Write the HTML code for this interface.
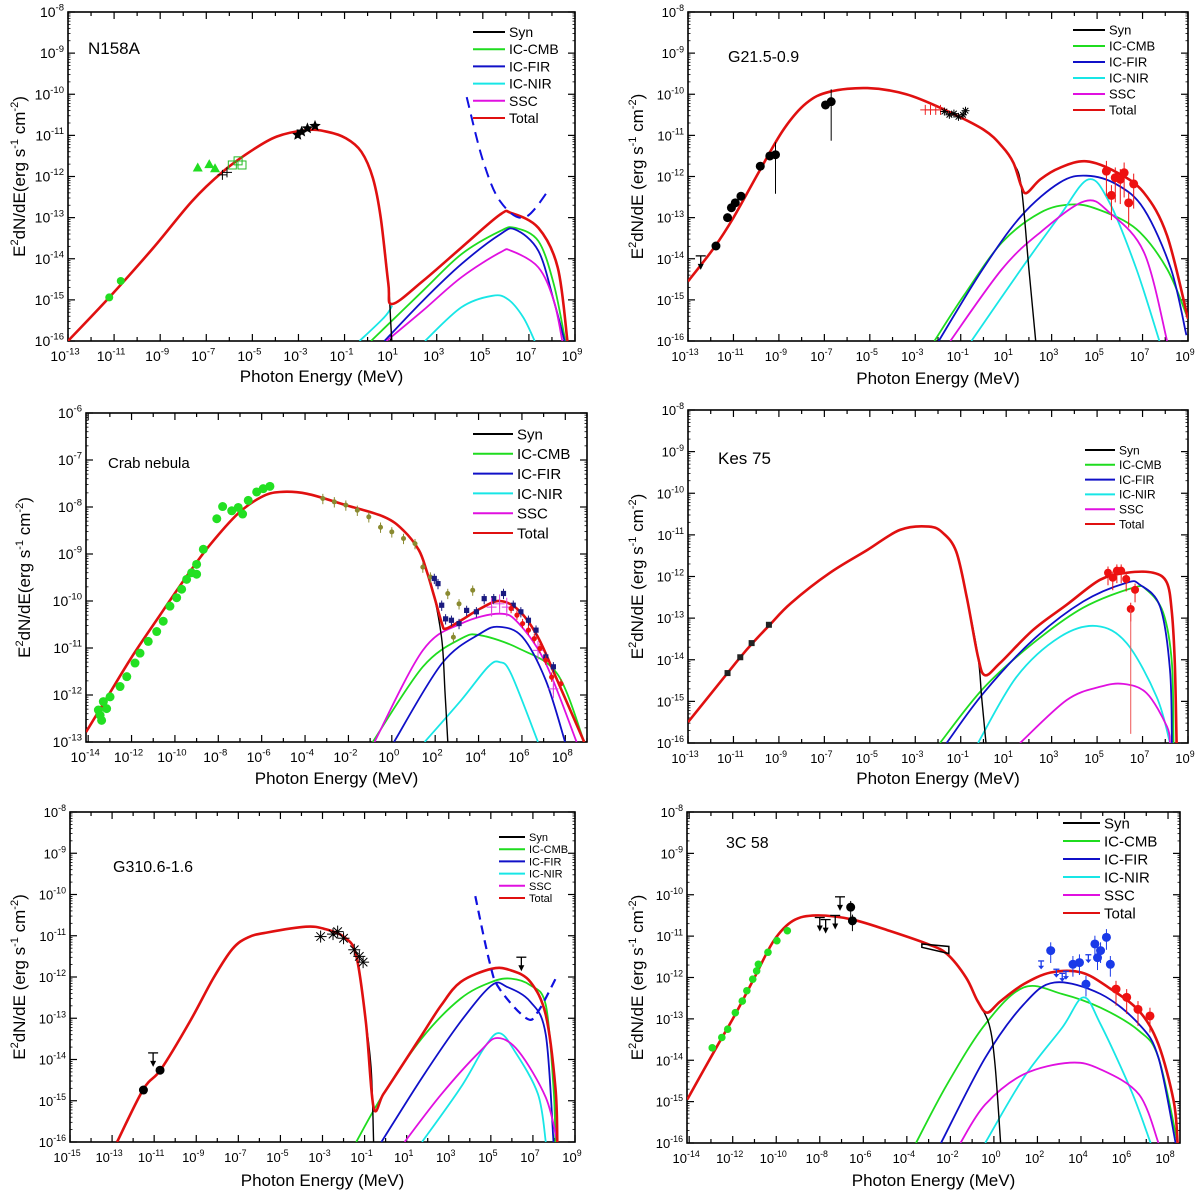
<!DOCTYPE html>
<html><head><meta charset="utf-8"><title>SED panels</title>
<style>
html,body{margin:0;padding:0;background:#fff;}
svg{display:block;font-family:"Liberation Sans",Arial,sans-serif;}
</style></head>
<body>
<svg id="fig" width="1200" height="1196" viewBox="0 0 1200 1196" xmlns="http://www.w3.org/2000/svg"></svg>
<script>
// ===== DATA: [logE (MeV), log(E^2 dN/dE)] =====
// --- N158A ---
const n158aTotal=[[-13,-16],[-11.21,-14.94],[-9.29,-13.73],[-7.62,-12.6],[-6.28,-11.88],[-5.11,-11.4],[-3.95,-11.03],[-2.61,-10.87],[-1.77,-10.91],[-0.94,-11.07],[-0.27,-11.4],[0.23,-12.04],[0.57,-13.0],[0.9,-14.6],[1.07,-15.1],[2.4,-14.54],[4.07,-13.73],[5.74,-12.93],[6.24,-12.89],[7.41,-13.25],[8.25,-14.21],[8.67,-16]];
const n158aSyn=[[-13,-16],[-11.21,-14.94],[-9.29,-13.73],[-7.62,-12.6],[-6.28,-11.88],[-5.11,-11.4],[-3.95,-11.03],[-2.61,-10.87],[-1.77,-10.91],[-0.94,-11.07],[-0.27,-11.4],[0.23,-12.04],[0.57,-13.0],[0.9,-14.6],[1.0,-15.5],[1.05,-16]];
const n158aCMB=[[0.15,-16],[2.4,-14.78],[4.07,-13.89],[5.74,-13.33],[6.41,-13.25],[7.41,-13.57],[8.08,-14.62],[8.58,-16]];
const n158aFIR=[[0.73,-16],[2.4,-15.02],[4.07,-14.13],[5.74,-13.41],[6.41,-13.29],[7.41,-13.81],[8.08,-15.02],[8.55,-16]];
const n158aNIR1=[[-0.35,-16],[0.73,-15.42],[1.07,-15.14]];
const n158aNIR2=[[2.49,-16],[4.07,-15.18],[5.41,-14.9],[6.08,-14.98],[6.75,-15.42],[7.25,-16]];
const n158aSSC=[[0.82,-16],[2.4,-15.26],[4.07,-14.45],[5.74,-13.85],[6.24,-13.81],[7.41,-14.21],[8.08,-15.02],[8.45,-16]];
const n158aSens=[[4.3,-10.07],[5.0,-11.6],[5.75,-12.6],[6.8,-13.0],[7.9,-12.3]];
const n158aGreenCircE=[-11.21,-10.71], n158aGreenCircF=[-14.94,-14.54];
const n158aTriE=[-7.37,-6.87,-6.62], n158aTriF=[-11.78,-11.7,-11.8];
const n158aCrossE=[-6.3,-6.1], n158aCrossF=[-11.96,-11.9];
const n158aSqE=[-5.87,-5.62,-5.45], n158aSqF=[-11.72,-11.62,-11.72];
const n158aStarE=[-3.03,-2.86,-2.61,-2.28], n158aStarF=[-10.99,-10.91,-10.83,-10.77];
// --- G21.5-0.9 ---
const g21Total=[[-13,-14.55],[-11.85,-13.73],[-11.0,-13.0],[-9.82,-11.83],[-8.8,-10.86],[-7.8,-10.22],[-6.78,-9.94],[-5.1,-9.85],[-3.4,-10.0],[-1.7,-10.38],[0,-10.86],[0.82,-11.27],[1.32,-11.67],[1.66,-12.23],[1.9,-12.4],[2.5,-12.07],[3.35,-11.79],[4.53,-11.63],[5.9,-11.91],[7.07,-12.4],[8.08,-13.44],[9,-15.46]];
const g21Syn=[[-13,-14.55],[-11.85,-13.73],[-11.0,-13.0],[-9.82,-11.83],[-8.8,-10.86],[-7.8,-10.22],[-6.78,-9.94],[-5.1,-9.85],[-3.4,-10.0],[-1.7,-10.38],[0,-10.86],[0.82,-11.27],[1.32,-11.67],[1.66,-12.23],[2.0,-14.25],[2.3,-16]];
const g21CMB=[[-2.16,-16],[-0.87,-14.9],[0.82,-13.6],[2.5,-12.88],[3.86,-12.68],[5.04,-12.8],[6.73,-13.28],[8.08,-14.25],[9,-15.46]];
const g21FIR=[[-1.97,-16],[-0.03,-14.25],[1.66,-12.96],[3.35,-12.15],[4.53,-11.98],[5.88,-12.2],[7.07,-12.8],[8.25,-14.25],[8.93,-15.86]];
const g21NIR=[[-0.53,-16],[1.66,-14.25],[3.35,-12.96],[4.62,-12.07],[5.55,-12.64],[6.73,-14.25],[7.74,-16]];
const g21SSC=[[-1.46,-16],[0.82,-14.25],[2.5,-13.36],[4.45,-12.6],[5.55,-12.88],[7.07,-13.85],[8.08,-16]];
const g21BlackE=[-11.77,-11.26,-11.09,-10.92,-10.67,-9.82,-9.4,-9.15,-6.95,-6.7], g21BlackF=[-13.69,-13.0,-12.76,-12.64,-12.48,-11.75,-11.5,-11.47,-10.26,-10.18];
const g21RedCrossE=[-2.56,-2.33,-2.1,-1.89], g21RedCrossF=[-10.38,-10.38,-10.38,-10.38];
const g21StarE=[-1.72,-1.5,-1.3,-1.1,-0.9,-0.79], g21StarF=[-10.42,-10.5,-10.47,-10.55,-10.5,-10.4];
const g21RedE=[5.41,5.63,5.8,6.02,6.19,6.39,6.61], g21RedF=[-11.87,-12.46,-12.03,-12.07,-11.91,-12.64,-12.18];
// --- Crab nebula ---
const crabTotal=[[-14.1,-12.79],[-13.15,-12.07],[-12.0,-11.2],[-10.69,-10.3],[-9.5,-9.5],[-8.39,-8.81],[-7.09,-8.14],[-6.02,-7.79],[-5.16,-7.68],[-3.9,-7.72],[-2.12,-7.96],[-0.35,-8.21],[0.54,-8.5],[1.25,-8.92],[1.6,-9.35],[1.96,-9.91],[2.31,-10.48],[2.49,-10.59],[3.2,-10.41],[4.09,-10.16],[4.97,-10.0],[5.86,-10.2],[6.74,-10.77],[7.63,-11.69],[8.87,-13.0]];
const crabSyn=[[-14.1,-12.79],[-13.15,-12.07],[-12.0,-11.2],[-10.69,-10.3],[-9.5,-9.5],[-8.39,-8.81],[-7.09,-8.14],[-6.02,-7.79],[-5.16,-7.68],[-3.9,-7.72],[-2.12,-7.96],[-0.35,-8.21],[0.54,-8.5],[1.25,-8.92],[1.6,-9.35],[1.96,-9.91],[2.31,-10.84],[2.45,-11.9],[2.58,-13]];
const crabCMB=[[-0.88,-13],[1.43,-11.4],[3.2,-10.8],[4.09,-10.73],[5.86,-11.01],[7.63,-11.55],[8.87,-13]];
const crabFIR=[[0.1,-13],[2.31,-11.33],[4.09,-10.69],[4.97,-10.55],[6.03,-10.77],[7.1,-11.69],[7.99,-13]];
const crabNIR=[[1.51,-13],[3.2,-12.11],[4.44,-11.4],[4.97,-11.3],[5.5,-11.55],[6.74,-13]];
const crabSSC=[[-0.8,-13],[1.43,-11.05],[3.2,-10.48],[4.97,-10.27],[5.86,-10.48],[7.1,-11.33],[8.52,-13]];
const crabGreenE=[-13.38,-13.53,-13.3,-13.45,-13.15,-12.99,-12.53,-12.22,-11.84,-11.61,-11.23,-10.84,-10.54,-10.23,-9.92,-9.69,-9.46,-9.23,-9.0,-9.0,-8.69,-8.07,-7.8,-7.38,-7.08,-6.88,-6.62,-6.23,-5.93,-5.62];
const crabGreenF=[-12.54,-12.32,-12.14,-12.43,-12.29,-12.04,-11.82,-11.61,-11.32,-11.11,-10.86,-10.65,-10.43,-10.11,-9.93,-9.75,-9.54,-9.4,-9.22,-9.43,-8.9,-8.25,-7.99,-8.08,-8.01,-8.15,-7.86,-7.68,-7.61,-7.56];
const crabOliveE=[-3.18,-2.65,-2.12,-1.59,-1.06,-0.52,0.0,0.54,1.07,1.43,1.78,2.58,3.1,3.73,2.84];
const crabOliveF=[-7.82,-7.89,-7.96,-8.07,-8.21,-8.43,-8.53,-8.67,-8.78,-9.28,-9.49,-9.84,-10.06,-9.77,-10.77];
const crabNavyE=[1.96,2.13,2.3,2.48,2.75,3.1,3.45,3.9,4.26,4.7,5.15,5.6,5.95,6.3,6.65,7.1,7.45];
const crabNavyF=[-9.52,-9.63,-10.09,-10.38,-10.41,-10.48,-10.2,-10.23,-9.95,-9.95,-9.84,-10.09,-10.23,-10.41,-10.62,-11.19,-11.4];
const crabRedE=[5.5,5.77,6.03,6.3,6.57,6.83,7.1,7.37,7.8];
const crabRedF=[-10.16,-10.3,-10.48,-10.62,-10.8,-11.01,-11.26,-11.62,-11.76];
const crabMagE=[4.6,4.97,5.3,6.74,7.45], crabMagF=[-10.13,-10.06,-10.13,-11.05,-11.87];
// --- Kes 75 ---
const kesTotal=[[-13,-15.5],[-11.26,-14.32],[-10.67,-13.92],[-10.16,-13.6],[-9.4,-13.16],[-8.47,-12.64],[-6.78,-11.92],[-5.1,-11.36],[-3.67,-10.88],[-2.4,-10.8],[-1.77,-10.96],[-1.2,-11.4],[-0.74,-12.48],[-0.24,-13.93],[0.07,-14.37],[0.73,-14.08],[2.19,-13.28],[3.66,-12.68],[5.13,-12.08],[6.3,-11.91],[7.47,-11.91],[8.07,-12.15],[8.29,-12.87],[8.42,-14.08],[8.5,-16]];
const kesSyn=[[-13,-15.5],[-11.26,-14.32],[-10.67,-13.92],[-10.16,-13.6],[-9.4,-13.16],[-8.47,-12.64],[-6.78,-11.92],[-5.1,-11.36],[-3.67,-10.88],[-2.4,-10.8],[-1.77,-10.96],[-1.2,-11.4],[-0.74,-12.48],[-0.24,-13.93],[-0.08,-14.89],[0.11,-16]];
const kesCMB=[[-1.91,-16],[0.0,-14.68],[2.19,-13.6],[4.39,-12.75],[6.59,-12.27],[7.18,-12.32],[7.91,-12.87],[8.29,-14.08],[8.36,-16]];
const kesFIR=[[-1.62,-16],[0.0,-14.8],[2.19,-13.52],[4.39,-12.6],[6.3,-12.15],[6.89,-12.2],[7.77,-12.72],[8.21,-14.25],[8.29,-16]];
const kesNIR=[[-0.24,-16],[1.46,-14.41],[3.37,-13.45],[4.98,-13.19],[6.3,-13.6],[7.62,-14.89],[8.21,-16]];
const kesSSC=[[1.61,-16],[3.66,-14.97],[5.13,-14.65],[6.15,-14.58],[7.18,-14.8],[8.07,-15.6],[8.21,-16]];
const kesBlackE=[-11.26,-10.7,-10.2,-9.44], kesBlackF=[-14.32,-13.94,-13.6,-13.16];
const kesRedE=[5.48,5.69,5.87,6.06,6.28,6.48,6.67], kesRedF=[-11.91,-12.03,-11.86,-11.86,-12.06,-12.78,-12.32];
// --- G310.6-1.6 ---
const g310Total=[[-12.76,-16],[-11.51,-14.72],[-10.68,-14.24],[-9.3,-13.08],[-8.2,-12.04],[-7.28,-11.32],[-6.54,-11.04],[-5.63,-10.92],[-3.79,-10.78],[-2.87,-10.84],[-1.95,-11.04],[-1.4,-11.48],[-0.94,-13.08],[-0.57,-15.16],[-0.11,-14.84],[0.81,-14.12],[1.73,-13.4],[2.65,-12.68],[3.57,-12.12],[5.04,-11.8],[5.96,-11.84],[6.88,-12.12],[7.61,-12.92],[8.07,-14.68],[8.16,-16]];
const g310Syn=[[-12.76,-16],[-11.51,-14.72],[-10.68,-14.24],[-9.3,-13.08],[-8.2,-12.04],[-7.28,-11.32],[-6.54,-11.04],[-5.63,-10.92],[-3.79,-10.78],[-2.87,-10.84],[-1.95,-11.04],[-1.4,-11.48],[-0.94,-13.08],[-0.68,-14.28],[-0.57,-16]];
const g310CMB=[[-1.4,-16],[-0.11,-14.84],[1.73,-13.48],[3.57,-12.52],[5.04,-12.12],[5.96,-12.04],[6.88,-12.2],[7.61,-12.68],[7.98,-14.68],[8.07,-16]];
const g310FIR=[[-0.2,-16],[1.73,-14.44],[3.57,-13.08],[5.04,-12.2],[5.77,-12.24],[6.88,-12.6],[7.61,-13.4],[7.98,-16]];
const g310NIR=[[1.73,-16],[3.57,-14.68],[4.68,-13.72],[5.4,-13.36],[6.14,-13.8],[7.24,-14.84],[7.61,-16]];
const g310SSC=[[0.9,-16],[2.65,-14.84],[4.49,-13.8],[5.32,-13.48],[6.32,-13.8],[7.61,-14.92],[8.16,-16]];
const g310Sens=[[4.26,-10.04],[4.94,-11.64],[5.4,-12.28],[6.69,-13.0],[7.24,-12.84],[8.16,-11.96]];
const g310BlackE=[-11.51,-10.72], g310BlackF=[-14.74,-14.26];
const g310StarE=[-3.09,-2.5,-2.28,-2.0,-1.49,-1.25,-1.07], g310StarF=[-11.02,-10.96,-10.9,-11.06,-11.34,-11.5,-11.64];
// --- 3C 58 ---
const c58Total=[[-14.09,-14.95],[-12.76,-13.7],[-11.88,-12.89],[-11.0,-12.0],[-10.11,-11.11],[-9.23,-10.63],[-8.17,-10.5],[-6.58,-10.59],[-4.81,-10.87],[-3.05,-11.19],[-2.16,-11.43],[-1.28,-12.0],[-0.75,-12.57],[-0.31,-12.85],[0.31,-12.57],[1.37,-12.16],[2.61,-11.88],[4.02,-11.88],[5.26,-12.24],[6.67,-12.81],[7.56,-13.62],[8.26,-14.99],[8.44,-16]];
const c58Syn=[[-14.09,-14.95],[-12.76,-13.7],[-11.88,-12.89],[-11.0,-12.0],[-10.11,-11.11],[-9.23,-10.63],[-8.17,-10.5],[-6.58,-10.59],[-4.81,-10.87],[-3.05,-11.19],[-2.16,-11.43],[-1.28,-12.0],[-0.75,-12.57],[-0.22,-13.13],[0.05,-14.1],[0.31,-16]];
const c58CMB=[[-3.58,-16],[-2.16,-14.59],[-0.4,-13.13],[1.37,-12.24],[3.14,-12.4],[4.9,-12.73],[6.67,-13.29],[7.56,-13.94],[8.44,-16]];
const c58FIR=[[-2.43,-16],[-0.4,-13.94],[1.37,-12.65],[2.78,-12.12],[4.9,-12.4],[6.67,-13.13],[7.56,-13.94],[8.35,-16]];
const c58NIR=[[-0.4,-16],[1.37,-14.42],[3.14,-13.21],[4.11,-12.48],[4.9,-13.13],[6.32,-14.75],[7.2,-16]];
const c58SSC=[[-1.54,-16],[-0.4,-15.07],[1.37,-14.34],[3.49,-14.06],[4.9,-14.22],[6.67,-14.83],[7.56,-16]];
const c58GreenE=[-12.94,-12.5,-12.23,-11.88,-11.56,-11.35,-11.08,-10.9,-10.82,-10.38,-9.97,-9.49];
const c58GreenF=[-13.7,-13.45,-13.25,-12.85,-12.57,-12.32,-12.04,-11.84,-11.68,-11.39,-11.11,-10.87];
const c58BlackE=[-6.58,-6.5], c58BlackF=[-10.3,-10.63];
const c58ArrowE=[-8.0,-7.73,-7.29,-7.07], c58ArrowF=[-10.55,-10.6,-10.5,-10.05];
const c58BlueE=[2.61,3.63,3.93,4.23,4.64,4.76,4.9,5.17,5.35], c58BlueF=[-11.35,-11.68,-11.64,-12.16,-11.19,-11.52,-11.35,-11.03,-11.68];
const c58BlueArrE=[2.17,2.87,3.14,3.31,4.34], c58BlueArrF=[-11.6,-11.8,-11.9,-11.85,-11.45];
const c58RedE=[5.61,6.1,6.62,7.17], c58RedF=[-12.28,-12.48,-12.77,-12.93];

// ===== RENDERING =====
const NS="http://www.w3.org/2000/svg";
const svg=document.getElementById('fig');
const COL={syn:'#000000',cmb:'#1fdc1f',fir:'#1010c8',nir:'#18e6e6',ssc:'#e010e0',tot:'#e01010'};
function el(tag,attrs,parent){const e=document.createElementNS(NS,tag);for(const k in attrs)e.setAttribute(k,attrs[k]);(parent||svg).appendChild(e);return e;}
function smoothPath(pts){
  if(pts.length<2)return '';
  let d='M'+pts[0][0].toFixed(1)+','+pts[0][1].toFixed(1);
  for(let i=0;i<pts.length-1;i++){
    const p0=pts[i-1]||pts[i],p1=pts[i],p2=pts[i+1],p3=pts[i+2]||p2;
    const c1=[p1[0]+(p2[0]-p0[0])/6,p1[1]+(p2[1]-p0[1])/6];
    const c2=[p2[0]-(p3[0]-p1[0])/6,p2[1]-(p3[1]-p1[1])/6];
    d+=' C'+c1[0].toFixed(1)+','+c1[1].toFixed(1)+' '+c2[0].toFixed(1)+','+c2[1].toFixed(1)+' '+p2[0].toFixed(1)+','+p2[1].toFixed(1);
  }
  return d;
}
function powLabel(g,x,y,exp,fs,anchor){
  const t=el('text',{x:x,y:y,'font-size':fs,'text-anchor':anchor,fill:'#000'},g);
  const a=document.createElementNS(NS,'tspan');a.textContent='10';t.appendChild(a);
  const b=document.createElementNS(NS,'tspan');b.setAttribute('dy',-fs*0.45);b.setAttribute('font-size',fs*0.68);b.textContent=String(exp);t.appendChild(b);
  return t;
}
function makePanel(p){
  const g=el('g',{});
  
  
  const sx=v=>p.L+(v-p.x0)/(p.x1-p.x0)*(p.R-p.L);
  const sy=v=>p.B-(v-p.y0)/(p.y1-p.y0)*(p.B-p.T);
  p.sx=sx;p.sy=sy;
  const cid='clip-'+p.name;
  const cp=el('clipPath',{id:cid},g);el('rect',{x:p.L,y:p.T,width:p.R-p.L,height:p.B-p.T},cp);
  const fr=el('rect',{x:p.L,y:p.T,width:p.R-p.L,height:p.B-p.T,fill:'none',stroke:'#000','stroke-width':1.6},g);
  
  const xa=el('g',{},g);
  for(let e=Math.ceil(p.x0);e<=Math.floor(p.x1);e++){
    const X=sx(e);const major=((e-p.xLab)%2===0);
    const len=major?7:4;
    el('line',{x1:X,y1:p.B,x2:X,y2:p.B-len,stroke:'#000','stroke-width':1.2},xa);
    el('line',{x1:X,y1:p.T,x2:X,y2:p.T+len,stroke:'#000','stroke-width':1.2},xa);
    if(major){const t=powLabel(xa,X-3,p.B+20,e,p.fs,'middle');}
  }
  const ya=el('g',{},g);
  for(let e=p.y0;e<=p.y1;e++){
    const Y=sy(e);
    el('line',{x1:p.L,y1:Y,x2:p.L+7,y2:Y,stroke:'#000','stroke-width':1.2},ya);
    el('line',{x1:p.R,y1:Y,x2:p.R-7,y2:Y,stroke:'#000','stroke-width':1.2},ya);
    for(let k=2;k<10;k++){const Ym=sy(e+Math.log10(k));if(e+Math.log10(k)<p.y1){el('line',{x1:p.L,y1:Ym,x2:p.L+2.5,y2:Ym,stroke:'#000','stroke-width':0.8},ya);el('line',{x1:p.R,y1:Ym,x2:p.R-2.5,y2:Ym,stroke:'#000','stroke-width':0.8},ya);}}
    const t=powLabel(ya,p.L-4,Y+5,e,p.fs,'end');
  }
  const xt=el('text',{x:(p.L+p.R)/2,y:p.xTitleY,'font-size':17,'text-anchor':'middle',fill:'#000'},g);
  xt.textContent='Photon Energy (MeV)';
  const cy=(p.T+p.B)/2;
  const yt=el('text',{x:0,y:0,'font-size':17,'text-anchor':'middle',fill:'#000',transform:'translate('+p.yTitleX+','+cy+') rotate(-90)'},g);
  
  const parts=[['E',0,17],['2',-7,11],['dN/dE'+p.ySep+'(erg s',7,17],['-1',-7,11],[' cm',7,17],['-2',-7,11],[')',7,17]];
  parts.forEach(q=>{const s=document.createElementNS(NS,'tspan');s.setAttribute('dy',q[1]);s.setAttribute('font-size',q[2]);s.textContent=q[0];yt.appendChild(s);});
  const tt=el('text',{x:p.titleX,y:p.titleY,'font-size':p.titleFs,fill:'#000'},g);
  tt.textContent=p.title;
  const dl=el('g',{'clip-path':'url(#'+cid+')'},g);
  p.dl=dl;
  const lg=el('g',{},g);
  const items=[['Syn',COL.syn],['IC-CMB',COL.cmb],['IC-FIR',COL.fir],['IC-NIR',COL.nir],['SSC',COL.ssc],['Total',COL.tot]];
  items.forEach((it,i)=>{
    const Y=p.legY+i*p.legDy;
    const le=el('g',{},lg);
    
    
    el('line',{x1:p.legX,y1:Y,x2:p.legX+p.legW,y2:Y,stroke:it[1],'stroke-width':2},le);
    const t=el('text',{x:p.legX+p.legW+4,y:Y+p.legFs*0.36,'font-size':p.legFs,fill:'#000'},le);t.textContent=it[0];
  });
  return p;
}
function curve(p,arr,color,w,name,dash){
  const pts=arr.map(d=>[p.sx(d[0]),p.sy(d[1])]);
  const a={d:smoothPath(pts),fill:'none',stroke:color,'stroke-width':w,'stroke-linejoin':'round'};
  if(dash)a['stroke-dasharray']=dash;
  const e=el('path',a,p.dl);
  
  
  return e;
}
function curves(p,c){
  if(c.cmb)curve(p,c.cmb,COL.cmb,1.8,'ic-cmb-curve');
  if(c.fir)curve(p,c.fir,COL.fir,1.8,'ic-fir-curve');
  (c.nir||[]).forEach(n=>curve(p,n,COL.nir,1.8,'ic-nir-curve'));
  if(c.ssc)curve(p,c.ssc,COL.ssc,1.8,'ssc-curve');
  curve(p,c.syn,COL.syn,1.4,'syn-curve');
  curve(p,c.tot,COL.tot,2.6,'total-curve');
}
function marks(p,E,F,type,color,size,name,err){
  const g=el('g',{},p.dl);
  
  
  for(let i=0;i<E.length;i++){
    const X=p.sx(E[i]),Y=p.sy(F[i]),s=size;
    if(err){el('line',{x1:X,y1:p.sy(F[i]+err[0]),x2:X,y2:p.sy(F[i]-err[1]),stroke:color,'stroke-width':1},g);}
    if(type==='circle')el('circle',{cx:X,cy:Y,r:s,fill:color},g);
    else if(type==='square')el('rect',{x:X-s,y:Y-s,width:2*s,height:2*s,fill:color},g);
    else if(type==='osquare')el('rect',{x:X-s,y:Y-s,width:2*s,height:2*s,fill:'none',stroke:color,'stroke-width':1},g);
    else if(type==='tri')el('polygon',{points:(X)+','+(Y-s)+' '+(X-s)+','+(Y+s*0.8)+' '+(X+s)+','+(Y+s*0.8),fill:color},g);
    else if(type==='star'){let pts=[];for(let k=0;k<10;k++){const r=k%2?s*0.45:s;const a=-Math.PI/2+k*Math.PI/5;pts.push((X+r*Math.cos(a)).toFixed(1)+','+(Y+r*Math.sin(a)).toFixed(1));}el('polygon',{points:pts.join(' '),fill:color},g);}
    else if(type==='ast'){for(let k=0;k<4;k++){const a=k*Math.PI/4;el('line',{x1:X-s*Math.cos(a),y1:Y-s*Math.sin(a),x2:X+s*Math.cos(a),y2:Y+s*Math.sin(a),stroke:color,'stroke-width':1},g);}}
    else if(type==='cross'){el('line',{x1:X-s,y1:Y,x2:X+s,y2:Y,stroke:color,'stroke-width':1},g);el('line',{x1:X,y1:Y-s,x2:X,y2:Y+s,stroke:color,'stroke-width':1},g);}
    else if(type==='arrow'){el('line',{x1:X-s,y1:Y,x2:X+s,y2:Y,stroke:color,'stroke-width':1.3},g);el('line',{x1:X,y1:Y,x2:X,y2:Y+s*2.2,stroke:color,'stroke-width':1.3},g);el('polygon',{points:(X-3)+','+(Y+s*1.6)+' '+(X+3)+','+(Y+s*1.6)+' '+X+','+(Y+s*2.8),fill:color},g);}
  }
}

// Panel 1: N158A
const P1=makePanel({name:'n158a',title:'N158A',L:68,R:575,T:12,B:341,x0:-13,x1:9,y0:-16,y1:-8,xLab:-13,fs:14,xTitleY:382,yTitleX:25,ySep:'',titleX:88,titleY:54,titleFs:17,legX:473,legW:32,legY:32,legDy:17.2,legFs:14});
curves(P1,{cmb:n158aCMB,fir:n158aFIR,nir:[n158aNIR1,n158aNIR2],ssc:n158aSSC,syn:n158aSyn,tot:n158aTotal});
curve(P1,n158aSens,'#1010e0',2,'sensitivity-curve','11,7');
marks(P1,n158aGreenCircE,n158aGreenCircF,'circle','#22dd22',4,'radio-points');
marks(P1,n158aTriE,n158aTriF,'tri','#22dd22',5,'ir-triangles');
marks(P1,n158aSqE,n158aSqF,'osquare','#22bb22',4,'optical-squares');
marks(P1,n158aCrossE,n158aCrossF,'cross','#000',5,'optical-crosses');
marks(P1,n158aStarE,n158aStarF,'star','#000',6,'xray-stars');

// Panel 2: G21.5-0.9
const P2=makePanel({name:'g21',title:'G21.5-0.9',L:688,R:1188,T:12,B:341,x0:-13,x1:9,y0:-16,y1:-8,xLab:-13,fs:13,xTitleY:384,yTitleX:643,ySep:' ',titleX:728,titleY:62,titleFs:16,legX:1073,legW:32,legY:30,legDy:16,legFs:13});
curves(P2,{cmb:g21CMB,fir:g21FIR,nir:[g21NIR],ssc:g21SSC,syn:g21Syn,tot:g21Total});
marks(P2,[-12.44],[-13.93],'arrow','#000',5,'radio-upper-limit');
marks(P2,g21BlackE,g21BlackF,'circle','#000',4.5,'radio-ir-points');
marks(P2,[-6.7,-9.15],[-10.18,-11.47],'circle','#000',0.1,'error-bars',[0.3,0.95]);
marks(P2,g21RedCrossE,g21RedCrossF,'cross','#ee2222',5,'xray-red-crosses');
marks(P2,g21StarE,g21StarF,'ast','#000',4,'xray-stars');
marks(P2,g21RedE,g21RedF,'circle','#ee1111',4.5,'tev-points',[0.25,0.6]);

// Panel 3: Crab
const P3=makePanel({name:'crab',title:'Crab nebula',L:86,R:587,T:413,B:742,x0:-14.1,x1:9.0,y0:-13,y1:-6,xLab:-14,fs:14,xTitleY:784,yTitleX:30,ySep:'',titleX:108,titleY:468,titleFs:15,legX:473,legW:40,legY:434,legDy:19.8,legFs:15});
curves(P3,{cmb:crabCMB,fir:crabFIR,nir:[crabNIR],ssc:crabSSC,syn:crabSyn,tot:crabTotal});
marks(P3,crabGreenE,crabGreenF,'circle','#22e022',4.5,'radio-optical-points');
marks(P3,crabOliveE,crabOliveF,'circle','#8a8a30',2.5,'xray-olive-points',[0.1,0.12]);
marks(P3,crabNavyE,crabNavyF,'square','#1a1a80',2.6,'fermi-points',[0.1,0.12]);
marks(P3,crabMagE,crabMagF,'cross','#e040e0',5,'magic-points',[0.2,0.2]);
marks(P3,crabRedE,crabRedF,'circle','#ee1111',2.6,'hess-points',[0.1,0.1]);

// Panel 4: Kes 75
const P4=makePanel({name:'kes75',title:'Kes 75',L:688,R:1188,T:410,B:743,x0:-13,x1:9,y0:-16,y1:-8,xLab:-13,fs:13,xTitleY:784,yTitleX:643,ySep:' ',titleX:718,titleY:464,titleFs:17,legX:1085,legW:30,legY:450,legDy:14.8,legFs:12});
curves(P4,{cmb:kesCMB,fir:kesFIR,nir:[kesNIR],ssc:kesSSC,syn:kesSyn,tot:kesTotal});
marks(P4,kesBlackE,kesBlackF,'square','#222',3,'radio-points');
marks(P4,kesRedE,kesRedF,'circle','#ee1111',4,'tev-points',[0.15,0.3]);
marks(P4,[6.48],[-12.78],'circle','#ee5555',0.1,'large-error-bar',[0,3.0]);

// Panel 5: G310.6-1.6
const P5=makePanel({name:'g310',title:'G310.6-1.6',L:70,R:575,T:812,B:1142,x0:-15,x1:9,y0:-16,y1:-8,xLab:-15,fs:13,xTitleY:1186,yTitleX:25,ySep:' ',titleX:113,titleY:872,titleFs:16,legX:499,legW:26,legY:837,legDy:12.2,legFs:11});
curves(P5,{cmb:g310CMB,fir:g310FIR,nir:[g310NIR],ssc:g310SSC,syn:g310Syn,tot:g310Total});
curve(P5,g310Sens,'#1010e0',2.2,'sensitivity-curve','9,6');
marks(P5,[-11.05],[-13.84],'arrow','#000',5,'radio-upper-limit');
marks(P5,g310BlackE,g310BlackF,'circle','#000',4.5,'radio-points');
marks(P5,g310StarE,g310StarF,'ast','#000',6,'xray-stars');
marks(P5,[6.45],[-11.52],'arrow','#000',5,'tev-upper-limit');

// Panel 6: 3C 58
const P6=makePanel({name:'c58',title:'3C 58',L:687,R:1180,T:812,B:1143,x0:-14.1,x1:8.55,y0:-16,y1:-8,xLab:-14,fs:13,xTitleY:1186,yTitleX:643,ySep:' ',titleX:726,titleY:848,titleFs:16,legX:1063,legW:37,legY:823,legDy:18,legFs:15});
curves(P6,{cmb:c58CMB,fir:c58FIR,nir:[c58NIR],ssc:c58SSC,syn:c58Syn,tot:c58Total});
marks(P6,c58GreenE,c58GreenF,'circle','#22e022',3.8,'radio-points');
marks(P6,c58ArrowE,c58ArrowF,'arrow','#000',5,'ir-upper-limits');
marks(P6,c58BlackE,c58BlackF,'circle','#000',4.5,'ir-points',[0.15,0.25]);
marks(P6,c58BlueE,c58BlueF,'circle','#1a3ae8',4.5,'fermi-points',[0.2,0.3]);
marks(P6,c58BlueArrE,c58BlueArrF,'arrow','#1a3ae8',3,'fermi-upper-limits');
marks(P6,c58RedE,c58RedF,'circle','#ee1111',4.5,'tev-points',[0.2,0.4]);
(function(){const g=el('polygon',{points:[[-3.31,-11.19],[-3.31,-11.27],[-2.07,-11.42],[-2.07,-11.25]].map(d=>P6.sx(d[0])+','+P6.sy(d[1])).join(' '),fill:'none',stroke:'#000','stroke-width':1.5},P6.dl);

})();
</script>
</body></html>
